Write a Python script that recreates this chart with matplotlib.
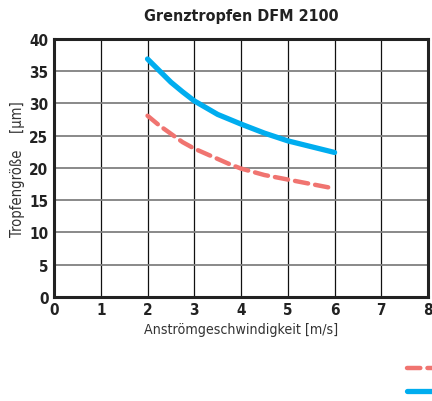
import matplotlib.pyplot as plt
from matplotlib.lines import Line2D

plt.rcParams['font.family'] = ['DejaVu Sans']
plt.rcParams['font.stretch'] = 'condensed'

# data
speed_blue = [2, 2.25, 2.5, 2.75, 3, 3.5, 4, 4.5, 5, 5.5, 6]
drop_blue = [36.9, 35.1, 33.3, 31.8, 30.4, 28.3, 26.8, 25.4, 24.2, 23.3, 22.4]
speed_red = [2, 2.25, 2.5, 2.75, 3, 3.25, 3.5, 3.75, 4, 4.5, 5, 5.5, 5.93]
drop_red = [28.1, 26.6, 25.3, 24.0, 23.0, 22.2, 21.4, 20.6, 19.9, 18.9, 18.2, 17.5, 16.9]

xticks = [0, 1, 2, 3, 4, 5, 6, 7, 8]
yticks = [0, 5, 10, 15, 20, 25, 30, 35, 40]

blue = '#00adef'
red = '#f07470'

fig = plt.figure(figsize=(4.32, 4.02), dpi=100)
ax = fig.add_axes([0.125, 0.259, 0.866, 0.6415])

ax.plot(speed_blue, drop_blue, color=blue, lw=3.8, solid_capstyle='round', zorder=3)
ax.plot(speed_red, drop_red, color=red, lw=3.2, dashes=(3.0, 1.6),
        dash_capstyle='round', zorder=3)

ax.set_xlim(0, 8)
ax.set_ylim(0, 40)
ax.set_xticks(xticks)
ax.set_yticks(yticks)
ax.tick_params(length=0, labelsize=11, pad=4)
for lbl in ax.get_xticklabels() + ax.get_yticklabels():
    lbl.set_fontweight('bold')
    lbl.set_color('#222222')

# grid: black verticals, grey horizontals
ax.xaxis.grid(True, color='#111111', lw=0.9)
ax.yaxis.grid(True, color='#808080', lw=1.3)
ax.set_axisbelow(True)
for s in ax.spines.values():
    s.set_linewidth(2.2)
    s.set_color('#222222')

ax.set_title('Grenztropfen DFM 2100', fontsize=11.5, fontweight='bold',
             color='#222222', pad=14)
ax.set_xlabel('Anströmgeschwindigkeit [m/s]', fontsize=10.2, color='#333333', labelpad=3)
ax.set_ylabel('Tropfengröße    [µm]', fontsize=10.5, color='#333333', labelpad=3)

# legend sits at the lower right, mostly outside the picture
handles = [Line2D([], [], color=red, lw=3.2, dashes=(3.0, 1.6), dash_capstyle='round'),
           Line2D([], [], color=blue, lw=3.8, solid_capstyle='round')]
fig.legend(handles, ['', ''], loc='upper left',
           bbox_to_anchor=(0.93, 0.11), frameon=False, handlelength=3,
           borderaxespad=0, labelspacing=0.6, fontsize=10)

fig.savefig('out.png', dpi=100)
